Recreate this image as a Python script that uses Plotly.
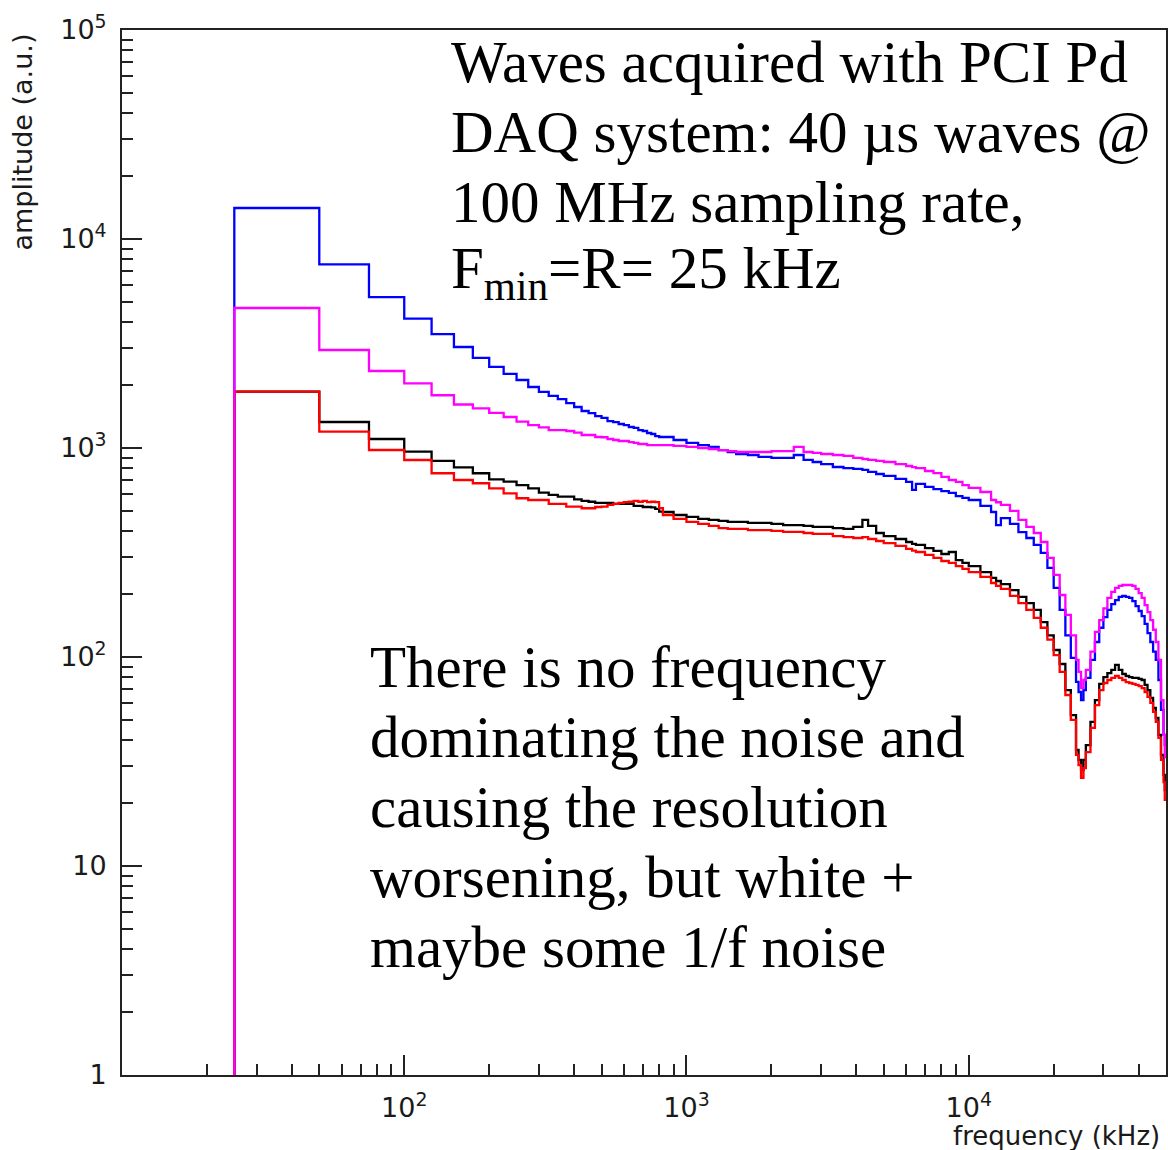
import plotly.graph_objects as go

# ---------------- data ----------------
# low-frequency histogram bins (left edges, kHz), bin width R = 25 kHz
edges_lo = [25, 50, 75, 100, 125, 150, 175, 200, 225, 250, 275, 300, 325, 350, 375, 400,
            425, 450, 475, 500, 525, 550, 575, 600, 625, 650, 675, 700, 725, 750, 775, 800]

blue_lo = [14070, 7560, 5275, 4160, 3510, 3043, 2697, 2443, 2261, 2115, 1958, 1854, 1774, 1715,
           1641, 1571, 1503, 1469, 1422, 1393, 1346, 1331, 1303, 1288, 1260, 1247, 1219, 1206,
           1180, 1167, 1141, 1129]
magenta_lo = [4677, 2944, 2336, 2040, 1788, 1615, 1549, 1471, 1407, 1336, 1288, 1256, 1219, 1219,
              1206, 1184, 1154, 1154, 1129, 1126, 1104, 1092, 1080, 1080, 1068, 1057, 1045, 1045,
              1033, 1033, 1033, 1033]
black_lo = [1863, 1332, 1104, 960, 867, 808, 757, 708, 690, 665, 641, 611, 596, 585, 585, 568,
            558, 553, 546, 546, 546, 540, 540, 540, 540, 528, 528, 522, 522, 520, 511, 496]
red_lo = [1863, 1197, 978, 876, 757, 703, 678, 641, 607, 575, 564, 564, 540, 540, 524, 524,
          515, 515, 522, 524, 534, 540, 546, 551, 553, 558, 553, 558, 551, 553, 551, 516]

# high-frequency part: bins are narrower than a pixel, values read at these frequencies (kHz)
freq_hi = [825, 900, 1000, 1100, 1200, 1300, 1400, 1500, 1650, 1800,
           2000, 2200, 2400, 2600, 2800, 3000, 3300, 3600, 3900, 4200,
           4400, 4700, 5000, 5500, 6000, 6300, 6500, 7000, 7500, 8000,
           8500, 9000, 9500, 10000, 11000, 12000, 12500, 13000, 14000, 15000,
           16000, 17000, 18000, 19000, 20000, 21000, 22000, 23000, 24000, 24500,
           25000, 25500, 26000, 27000, 28000, 29000, 30000, 31000, 32000, 33000,
           34000, 35000, 36000, 37000, 38000, 39000, 40000, 41000, 42000, 43000,
           44000, 45000, 46000, 47000, 48000, 49000, 49500]

blue_hi = [1129, 1092, 1057, 1033, 1012, 977, 957, 936, 926, 906,
           896, 896, 926, 877, 857, 838, 811, 802, 794, 785,
           768, 751, 735, 711, 688, 630, 673, 651, 636, 622,
           610, 589, 577, 564, 528, 494, 428, 462, 433, 396,
           371, 344, 315, 267, 214, 168, 127, 99, 76, 68,
           62.2, 69.5, 79.4, 96.8, 118, 138, 155, 168, 179, 187,
           194, 196, 194, 192, 185, 175, 166, 157, 144, 130,
           118, 106, 96.8, 77.6, 55.8, 42.4, 37.9]
magenta_hi = [1033, 1023, 1012, 1000, 989, 977, 967, 957, 957, 957,
              967, 967, 1012, 957, 947, 936, 926, 916, 896, 886,
              877, 867, 857, 838, 820, 810, 802, 776, 759, 727,
              703, 688, 665, 644, 616, 564, 550, 534, 500, 453,
              419, 392, 355, 298, 247, 198, 159, 127, 96.8, 84.8,
              71.0, 77.6, 86.7, 106, 132, 150, 171, 192, 205, 214,
              219, 221, 221, 221, 219, 212, 202, 192, 177, 164,
              150, 135, 118, 96.8, 62.2, 42.4, 33.2]
black_hi = [494, 478, 468, 458, 453, 448, 443, 443, 438, 438,
            433, 428, 428, 424, 419, 419, 414, 410, 419, 453,
            424, 392, 379, 367, 355, 348, 344, 332, 322, 311,
            318, 291, 282, 272, 255, 239, 231, 223, 209, 194,
            181, 168, 147, 127, 108, 92.6, 69.5, 52.7, 35.9, 32.2,
            28.8, 32.2, 37.9, 48.9, 62.2, 74.3, 80.2, 83.8, 86.7, 91.6,
            86.7, 82.9, 81.1, 80.2, 79.4, 79.4, 78.5, 77.6, 73.5, 69.5,
            63.7, 57.0, 51.1, 42.4, 34.0, 27.3, 23.1]
red_hi = [478, 458, 443, 433, 424, 414, 410, 410, 405, 405,
          401, 397, 397, 392, 388, 388, 379, 375, 371, 375,
          367, 359, 351, 340, 329, 323, 318, 308, 298, 288,
          282, 272, 264, 255, 242, 226, 219, 212, 196, 181,
          168, 154, 138, 121, 102, 84.8, 65.8, 50.0, 34.0, 30.4,
          26.4, 29.4, 35.1, 45.8, 58.9, 69.5, 75.1, 77.6, 79.4, 81.1,
          79.4, 77.6, 75.9, 75.1, 74.3, 73.5, 72.6, 71.0, 68.0, 64.4,
          60.3, 54.6, 48.9, 41.0, 32.2, 25.2, 20.7]

F_MAX = 50000          # Nyquist, last bin edge (kHz)
Y_EMPTY = 1            # empty bins below 25 kHz sit on the axis floor

x_tickvals = [100, 1000, 10000]
x_ticktext = ["10<sup>2</sup>", "10<sup>3</sup>", "10<sup>4</sup>"]
y_tickvals = [1, 10, 100, 1000, 10000, 100000]
y_ticktext = ["1", "10", "10<sup>2</sup>", "10<sup>3</sup>", "10<sup>4</sup>", "10<sup>5</sup>"]

text_top = ["Waves acquired with PCI Pd",
            "DAQ system: 40 µs waves @",
            "100 MHz sampling rate,",
            "F<sub>min</sub>=R= 25 kHz"]
text_bottom = ["There is no frequency",
               "dominating the noise and",
               "causing the resolution",
               "worsening, but white +",
               "maybe some 1/f noise"]

# ---------------- figure ----------------
W, H = 1168, 1150
ML, MR, MT, MB = 122, 2, 30, 75


def step_xy(lo, hi):
    xs = [edges_lo[0]] + edges_lo + freq_hi + [F_MAX]
    ys = [Y_EMPTY] + lo + hi + [hi[-1]]
    return xs, ys


fig = go.Figure()
for lo, hi, col in [(blue_lo, blue_hi, "#0000ff"),
                    (black_lo, black_hi, "#000000"),
                    (red_lo, red_hi, "#ff0000"),
                    (magenta_lo, magenta_hi, "#ff00ff")]:
    xs, ys = step_xy(lo, hi)
    fig.add_trace(go.Scatter(x=xs, y=ys, mode="lines", line=dict(color=col, width=2.3, shape="hv"),
                             showlegend=False, hoverinfo="skip"))

x_minor = [m * 10 ** e for e in range(1, 5) for m in range(2, 10) if m * 10 ** e < F_MAX]
y_minor = [m * 10 ** e for e in range(0, 5) for m in range(2, 10)]

tick_font = dict(family="DejaVu Sans", size=27, color="#1a1a1a")
axis_common = dict(type="log", showgrid=False, zeroline=False, showline=True, mirror=True,
                   linecolor="#222222", linewidth=2, ticks="inside", ticklen=20,
                   tickwidth=1.6, tickcolor="#222222", tickfont=tick_font, tickmode="array",
                   automargin=False)

fig.update_xaxes(range=[1, 4.69897], tickvals=x_tickvals, ticktext=x_ticktext,
                 minor=dict(tickmode="array", tickvals=x_minor, ticks="inside", ticklen=11,
                            tickwidth=1.6, tickcolor="#222222"),
                 ticklabelstandoff=8, **axis_common)
fig.update_yaxes(range=[0, 5], tickvals=y_tickvals, ticktext=y_ticktext,
                 minor=dict(tickmode="array", tickvals=y_minor, ticks="inside", ticklen=11,
                            tickwidth=1.6, tickcolor="#222222"),
                 ticklabelstandoff=8, **axis_common)

PW = W - ML - MR
PH = H - MT - MB


def px(xp):
    return (xp - ML) / PW


def py(yp):
    return (H - MB - yp) / PH


annotations = []
serif = dict(family="Liberation Serif", size=59, color="#000000")
for i, t in enumerate(text_top):
    annotations.append(dict(text=t, x=px(449), y=py(62 + 70 * i), xref="paper", yref="paper",
                            xanchor="left", yanchor="middle", showarrow=False, font=serif))
for i, t in enumerate(text_bottom):
    annotations.append(dict(text=t, x=px(368), y=py(667 + 70 * i), xref="paper", yref="paper",
                            xanchor="left", yanchor="middle", showarrow=False, font=serif))

title_font = dict(family="DejaVu Sans", size=26, color="#1a1a1a")
annotations.append(dict(text="frequency (kHz)", x=px(1162), y=py(1136), xref="paper", yref="paper",
                        xanchor="right", yanchor="middle", showarrow=False, font=title_font))
annotations.append(dict(text="amplitude (a.u.)", x=px(22), y=py(32), xref="paper", yref="paper",
                        xanchor="center", yanchor="top", textangle=-90, showarrow=False,
                        font=dict(family="DejaVu Sans", size=27, color="#1a1a1a")))

fig.update_layout(width=W, height=H, margin=dict(l=ML, r=MR, t=MT, b=MB, autoexpand=False),
                  paper_bgcolor="white", plot_bgcolor="white", annotations=annotations)

fig.write_html("out.html", config={"displayModeBar": False},
               post_script="document.body.style.margin='0px';document.body.style.padding='0px';")
